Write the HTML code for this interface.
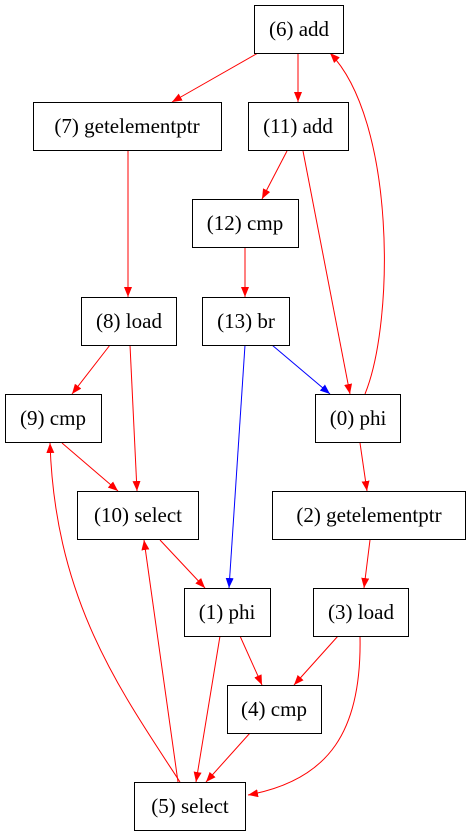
<!DOCTYPE html>
<html><head><meta charset="utf-8"><style>
html,body{margin:0;padding:0;background:#fff;}
svg{display:block;}
</style></head><body>
<svg width="471" height="839" viewBox="0 0 471 839" xmlns="http://www.w3.org/2000/svg">
<defs>
<marker id="r" markerWidth="10" markerHeight="8" refX="10" refY="4" orient="auto" markerUnits="userSpaceOnUse"><polygon points="0,0 10,4 0,8" fill="#f00"/></marker>
<marker id="b" markerWidth="10" markerHeight="8" refX="10" refY="4" orient="auto" markerUnits="userSpaceOnUse"><polygon points="0,0 10,4 0,8" fill="#00f"/></marker>
</defs>
<g fill="none" stroke="#f00" stroke-width="1">
<path d="M258,53 L172,102" marker-end="url(#r)"/>
<path d="M298,53 L298,102" marker-end="url(#r)"/>
<path d="M287,151 L262,199" marker-end="url(#r)"/>
<path d="M303,151 L350,394" marker-end="url(#r)"/>
<path d="M245,248 L245,297" marker-end="url(#r)"/>
<path d="M128,151 L128,297" marker-end="url(#r)"/>
<path d="M110,345 L72,394" marker-end="url(#r)"/>
<path d="M130,345 L137,491" marker-end="url(#r)"/>
<path d="M365,394 C395,320 395,120 330,53" marker-end="url(#r)"/>
<path d="M62,443 L118,491" marker-end="url(#r)"/>
<path d="M360,443 L367,491" marker-end="url(#r)"/>
<path d="M160,540 L205,588" marker-end="url(#r)"/>
<path d="M370,540 L364,588" marker-end="url(#r)"/>
<path d="M240,636 L262,685" marker-end="url(#r)"/>
<path d="M220,636 L196,782" marker-end="url(#r)"/>
<path d="M338,636 L294,685" marker-end="url(#r)"/>
<path d="M360,636 C362,730 330,780 248,795" marker-end="url(#r)"/>
<path d="M250,733 L206,782" marker-end="url(#r)"/>
<path d="M180,782 C120,690 55,600 50,443" marker-end="url(#r)"/>
<path d="M178,782 L144,540" marker-end="url(#r)"/>
</g>
<g fill="none" stroke="#00f" stroke-width="1">
<path d="M272,345 L330,394" marker-end="url(#b)"/>
<path d="M245,345 L229,588" marker-end="url(#b)"/>
</g>
<g fill="#fff" stroke="#000" stroke-width="1">
<rect x="254.5" y="5.5" width="89" height="48"/>
<rect x="33.5" y="102.5" width="188" height="48"/>
<rect x="248.5" y="102.5" width="100" height="48"/>
<rect x="192.5" y="199.5" width="106" height="48"/>
<rect x="81.5" y="297.5" width="95" height="48"/>
<rect x="202.5" y="297.5" width="87" height="48"/>
<rect x="5.5" y="394.5" width="96" height="48"/>
<rect x="315.5" y="394.5" width="85" height="48"/>
<rect x="77.5" y="491.5" width="121" height="48"/>
<rect x="272.5" y="491.5" width="193" height="48"/>
<rect x="184.5" y="588.5" width="86" height="48"/>
<rect x="313.5" y="588.5" width="95" height="48"/>
<rect x="227.5" y="685.5" width="94" height="48"/>
<rect x="134.5" y="782.5" width="111" height="48"/>
</g>
<g fill="#000" text-anchor="middle" font-family="Liberation Serif, DejaVu Serif, serif" font-size="21">
<text x="299" y="36">(6) add</text>
<text x="127" y="133">(7) getelementptr</text>
<text x="298" y="133">(11) add</text>
<text x="245" y="230">(12) cmp</text>
<text x="129" y="328">(8) load</text>
<text x="246" y="328">(13) br</text>
<text x="53" y="425">(9) cmp</text>
<text x="358" y="425">(0) phi</text>
<text x="138" y="522">(10) select</text>
<text x="369" y="522">(2) getelementptr</text>
<text x="227" y="619">(1) phi</text>
<text x="361" y="619">(3) load</text>
<text x="274" y="716">(4) cmp</text>
<text x="190" y="813">(5) select</text>
</g>
</svg>
</body></html>
